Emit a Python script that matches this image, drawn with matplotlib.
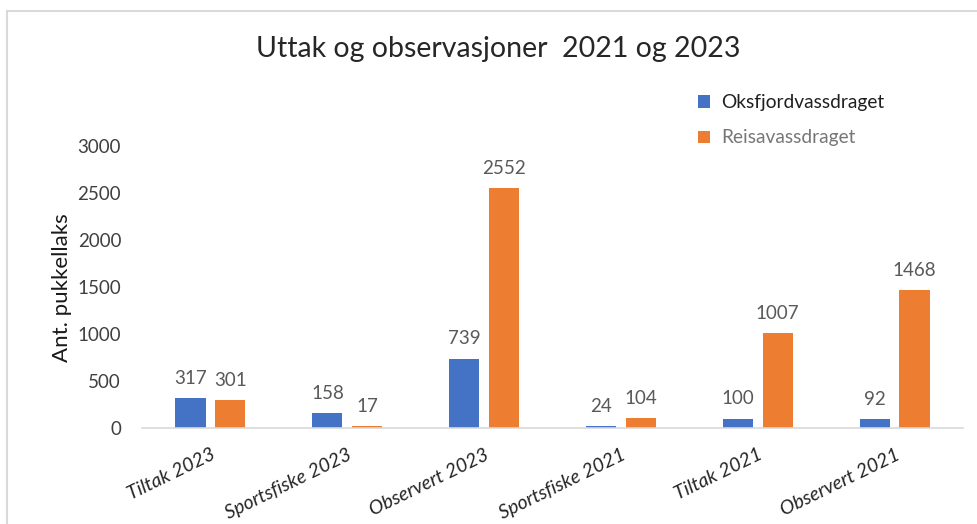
import numpy as np
import matplotlib.pyplot as plt
from matplotlib.patches import Rectangle

plt.rcParams['font.family'] = ['Lato', 'DejaVu Sans']

categories = ['Tiltak 2023', 'Sportsfiske 2023', 'Observert 2023',
              'Sportsfiske 2021', 'Tiltak 2021', 'Observert 2021']
oksfjord = [317, 158, 739, 24, 100, 92]
reisa = [301, 17, 2552, 104, 1007, 1468]
series_names = ['Oksfjordvassdraget', 'Reisavassdraget']
yticks = [0, 500, 1000, 1500, 2000, 2500, 3000]

blue = '#4472C4'
orange = '#ED7D31'

fig = plt.figure(figsize=(9.77, 5.24), dpi=100)
ax = fig.add_axes([0.1453, 0.1832, 0.8404, 0.5382])

x = np.arange(len(categories))
w = 0.22
off = 0.145
b1 = ax.bar(x - off, oksfjord, w, color=blue, label=series_names[0])
b2 = ax.bar(x + off, reisa, w, color=orange, label=series_names[1])

# verdier over søylene
for bars, vals in ((b1, oksfjord), (b2, reisa)):
    for rect, v in zip(bars, vals):
        ax.annotate(str(v), (rect.get_x() + rect.get_width() / 2, v),
                    xytext=(0, 8), textcoords='offset points',
                    ha='center', va='bottom', fontsize=13.5, color='#595959')

ax.set_xlim(-0.5, len(categories) - 0.5)
ax.set_ylim(0, 3000)
ax.set_yticks(yticks)
ax.set_yticklabels([str(t) for t in yticks], fontsize=13.5, color='#404040')
ax.set_xticks(x)
ax.set_xticklabels(categories, fontsize=14, color='#262626', style='italic',
                   rotation=26, ha='right', rotation_mode='anchor')
ax.tick_params(axis='x', length=0, pad=13)
ax.tick_params(axis='y', length=0, pad=15)
for s in ('top', 'right', 'left'):
    ax.spines[s].set_visible(False)
ax.spines['bottom'].set_color('#d9d9d9')
ax.spines['bottom'].set_linewidth(1.2)

fig.text(0.0635, 0.452, 'Ant. pukkellaks', rotation=90, ha='center', va='center',
         fontsize=16, color='#1a1a1a')

fig.text(0.510, 0.906, 'Uttak og observasjoner  2021 og 2023',
         ha='center', va='center', fontsize=20.5, color='#262626')

leg = fig.legend(handles=[b1, b2], loc='upper left', bbox_to_anchor=(0.697, 0.853),
                 frameon=False, fontsize=13.8, handlelength=0.6, handleheight=0.6,
                 handletextpad=0.6, labelspacing=0.95)
leg.get_texts()[0].set_color('#1f1f1f')
leg.get_texts()[1].set_color('#767676')

# ramme rundt diagrammet
fig.patches.append(Rectangle((7 / 977, -0.1), 1.2, 1.1 - 11 / 524,
                             transform=fig.transFigure, fill=False,
                             edgecolor='#d9d9d9', linewidth=1.5))

fig.savefig('out.png', dpi=100)
